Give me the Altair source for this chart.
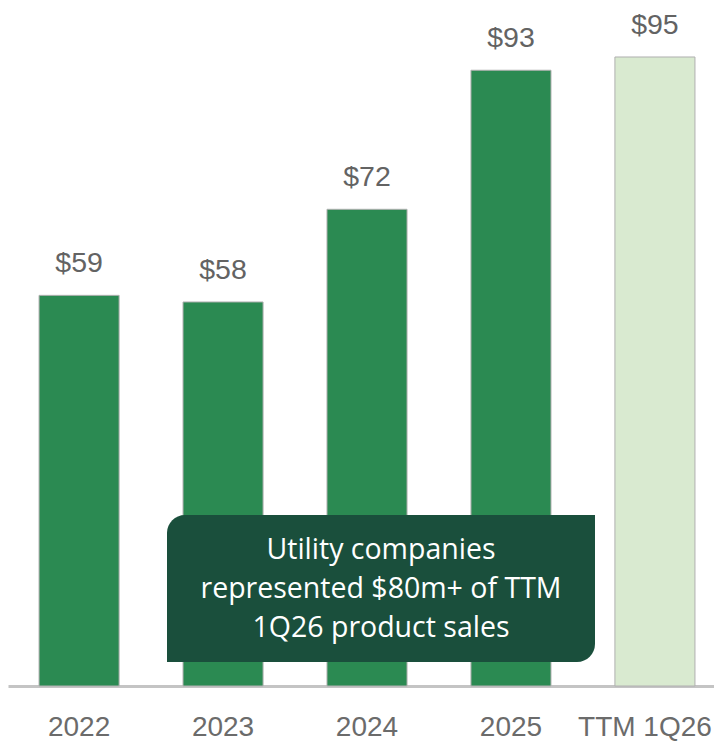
import altair as alt
import pandas as pd

categories = ["2022", "2023", "2024", "2025", "TTM 1Q26"]
values = [59, 58, 72, 93, 95]
value_labels = ["$59", "$58", "$72", "$93", "$95"]
kinds = ["annual", "annual", "annual", "annual", "ttm"]
callout_lines = ["Utility companies", "represented $80m+ of TTM", "1Q26 product sales"]

df = pd.DataFrame({"cat": categories, "value": values, "label": value_labels, "kind": kinds})

x_enc = alt.X(
    "cat:N",
    sort=categories,
    title=None,
    scale=alt.Scale(paddingInner=0.444, paddingOuter=0.174, align=0.62),
    axis=alt.Axis(
        labelAngle=0,
        ticks=False,
        tickSize=0,
        domain=True,
        domainColor="#c4c4c4",
        domainWidth=3,
        labelFont="Liberation Sans, Arial",
        labelFontSize=28,
        labelColor="#6b6b6b",
        labelBaseline="middle",
        labelPadding=41,
        labelOffset={"condition": {"test": "datum.value === 'TTM 1Q26'", "value": -10}, "value": 0},
        grid=False,
    ),
)
y_enc = alt.Y(
    "value:Q",
    title=None,
    scale=alt.Scale(domain=[0, 102.4], nice=False, zero=True),
    axis=None,
)

bars = alt.Chart(df).mark_bar(stroke="#b0b0b0", strokeWidth=1).encode(
    x=x_enc,
    y=y_enc,
    color=alt.Color(
        "kind:N",
        scale=alt.Scale(domain=["annual", "ttm"], range=["#2b8a52", "#d9ead0"]),
        legend=None,
    ),
)

labels = alt.Chart(df).mark_text(
    dy=-23,
    baseline="alphabetic",
    font="Liberation Sans, Arial",
    fontSize=28.5,
    color="#636363",
).encode(x=alt.X("cat:N", sort=categories), y="value:Q", text="label:N")

note_df = pd.DataFrame({"n": [1]})
box = alt.Chart(note_df).mark_rect(
    color="#1a4f3c",
    cornerRadiusTopLeft=18,
    cornerRadiusBottomRight=18,
).encode(
    x=alt.value(159), x2=alt.value(587), y=alt.value(507), y2=alt.value(654)
)
note = alt.Chart(note_df).mark_text(
    font="Open Sans, Noto Sans",
    fontSize=28.5,
    color="white",
    align="center",
    baseline="middle",
    lineHeight=39,
).encode(x=alt.value(373), y=alt.value(542), text=alt.value(callout_lines))

chart = (
    alt.layer(bars, labels, box, note)
    .properties(
        width=706,
        height=678,
        padding={"left": 0, "top": 0, "right": 0, "bottom": 56},
        autosize=alt.AutoSizeParams(type="none"),
    )
    .configure_view(stroke=None)
)

chart.save("out.html", embed_options={"renderer": "svg", "actions": False})
